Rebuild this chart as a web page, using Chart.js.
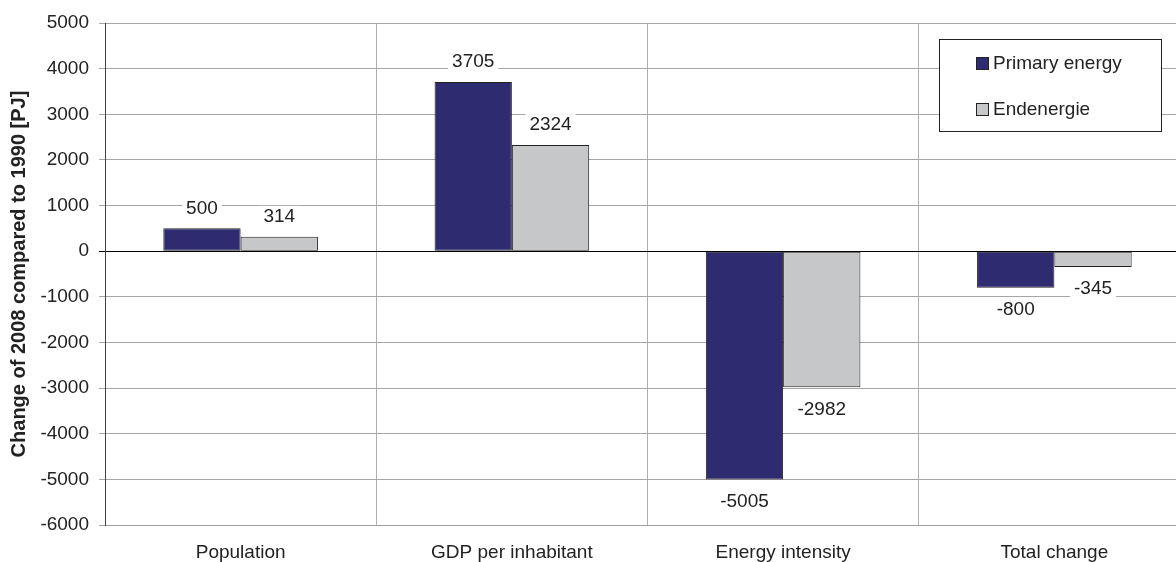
<!DOCTYPE html>
<html>
<head>
<meta charset="utf-8">
<script src="https://cdn.jsdelivr.net/npm/chart.js@4/dist/chart.umd.min.js"></script>
<style>
  html, body { margin: 0; padding: 0; background: #fff; overflow: hidden; }
  #wrap { width: 1190px; height: 562px; }
</style>
</head>
<body>
<div id="wrap"><canvas id="myChart" width="1190" height="562"></canvas></div>
<script>
const categories = ["Population", "GDP per inhabitant", "Energy intensity", "Total change"];
const primaryEnergy = [500, 3705, -5005, -800];
const endenergie = [314, 2324, -2982, -345];
const yMin = -6000;
const yMax = 5000;
const yStep = 1000;

const textFont = "'Liberation Sans', Arial, sans-serif";

// Werte über/unter den Balken mit weißem Hintergrund
const valueLabels = {
  id: "valueLabels",
  afterDatasetsDraw(chart) {
    const ctx = chart.ctx;
    ctx.save();
    ctx.font = "19px " + textFont;
    ctx.textAlign = "center";
    ctx.textBaseline = "middle";
    chart.data.datasets.forEach((ds, di) => {
      chart.getDatasetMeta(di).data.forEach((bar, i) => {
        const v = ds.data[i];
        const txt = String(v);
        const y = v >= 0 ? bar.y - 21 : bar.y + 21;
        const w = ctx.measureText(txt).width;
        ctx.fillStyle = "#fff";
        ctx.fillRect(bar.x - w / 2 - 4, y - 10, w + 8, 20);
        ctx.fillStyle = "#222";
        ctx.fillText(txt, bar.x, y + 1);
      });
    });
    ctx.restore();
  }
};

// Legende als Kasten im Diagramm
const boxLegend = {
  id: "boxLegend",
  afterDraw(chart) {
    const ctx = chart.ctx;
    ctx.save();
    ctx.fillStyle = "#fff";
    ctx.fillRect(939, 39, 222, 92);
    ctx.strokeStyle = "#222";
    ctx.lineWidth = 1;
    ctx.strokeRect(939.5, 39.5, 222, 92);
    ctx.font = "19px " + textFont;
    ctx.textBaseline = "middle";
    ctx.textAlign = "left";
    chart.data.datasets.forEach((ds, i) => {
      const cy = 63 + i * 46;
      ctx.fillStyle = ds.backgroundColor;
      ctx.fillRect(976, cy - 6, 12, 12);
      ctx.strokeStyle = "#222";
      ctx.strokeRect(976.5, cy - 5.5, 12, 12);
      ctx.fillStyle = "#222";
      ctx.fillText(ds.label, 993, cy + 1);
    });
    ctx.restore();
  }
};

const ctx = document.getElementById("myChart").getContext("2d");
new Chart(ctx, {
  type: "bar",
  data: {
    labels: categories,
    datasets: [
      {
        label: "Primary energy",
        data: primaryEnergy,
        backgroundColor: "#2f2b70",
        borderColor: "#222",
        borderWidth: 1,
        borderSkipped: false
      },
      {
        label: "Endenergie",
        data: endenergie,
        backgroundColor: "#c6c7c9",
        borderColor: "#222",
        borderWidth: 1,
        borderSkipped: false
      }
    ]
  },
  options: {
    responsive: false,
    animation: false,
    layout: { padding: { top: 23, left: 0, right: 0, bottom: 0 } },
    datasets: {
      bar: { categoryPercentage: 0.57, barPercentage: 1.0 }
    },
    plugins: {
      legend: { display: false },
      tooltip: { enabled: false }
    },
    scales: {
      x: {
        afterFit(scale) { scale.height = 37; },
        grid: { color: "#b0b0b0", drawTicks: false, offset: true },
        border: { color: "#a0a0a0" },
        ticks: {
          color: "#222",
          padding: 16,
          font: { family: textFont, size: 19 }
        }
      },
      y: {
        min: yMin,
        max: yMax,
        afterFit(scale) { scale.width = 105; },
        grid: {
          color: (c) => (c.tick && c.tick.value === 0 ? "#000" : "#a6a6a6"),
          tickLength: 6
        },
        border: { color: "#404040" },
        ticks: {
          stepSize: yStep,
          color: "#222",
          padding: 10,
          font: { family: textFont, size: 19 },
          callback: (v) => String(v)
        },
        title: {
          display: true,
          text: "Change of 2008 compared to 1990 [PJ]",
          color: "#222",
          padding: { top: 7, bottom: 0 },
          font: { family: textFont, size: 20, weight: "bold" }
        }
      }
    }
  },
  plugins: [valueLabels, boxLegend]
});
</script>
</body>
</html>
